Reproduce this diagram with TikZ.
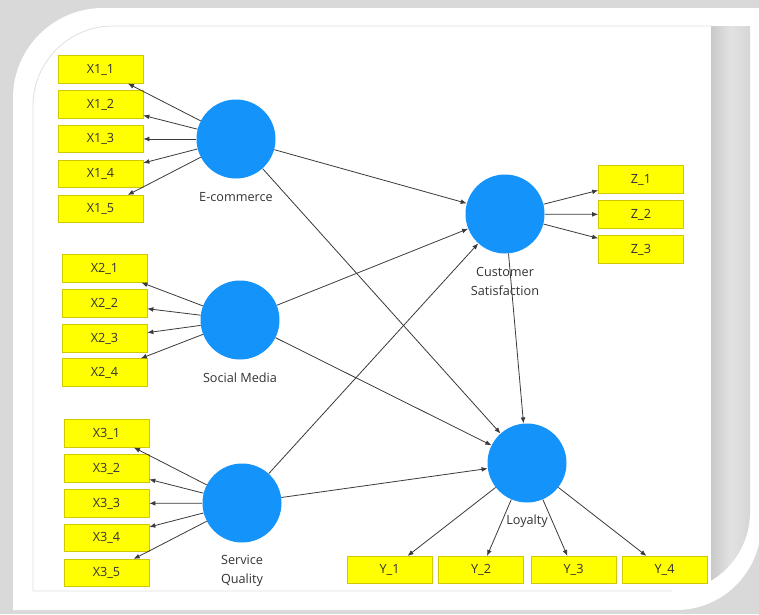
\documentclass[tikz,border=0pt]{standalone}
\usepackage{fontspec}
\setmainfont{Open Sans}
\usetikzlibrary{arrows.meta}
\definecolor{bgGrey}{HTML}{D9D9D9}
\definecolor{circBlue}{HTML}{1493FA}
\definecolor{boxYellow}{HTML}{FFFF00}
\definecolor{boxEdge}{HTML}{D2C800}
\definecolor{lineGrey}{HTML}{3A3A3A}
\definecolor{txtGrey}{HTML}{333333}
\definecolor{frameLine}{HTML}{E0E0E0}
\definecolor{stripDark}{HTML}{C9C9C9}
\definecolor{stripLight}{HTML}{E2E2E2}
\definecolor{stripMid}{HTML}{D6D6D6}
\begin{document}
\begin{tikzpicture}[x=0.75pt,y=-0.75pt,
  latent/.style={circle,fill=circBlue,draw=none,minimum size=59.25pt,inner sep=0pt},
  indicator/.style={rectangle,fill=boxYellow,draw=boxEdge,line width=0.5pt,minimum width=63.75pt,minimum height=20.6pt,inner sep=0pt,font=\fontsize{9.5}{11}\selectfont,text=txtGrey},
  lbl/.style={font=\fontsize{9.5}{14.25}\selectfont,text=txtGrey,align=center,inner sep=0pt},
  link/.style={draw=lineGrey,line width=0.6pt,-{Latex[length=4.5pt,width=3.6pt]}}]
\useasboundingbox (0,0) rectangle (759,614);
% background and frame
\fill[bgGrey] (0,0) rectangle (759,614);
\fill[white] (13,98) .. controls (13,48.3) and (53.3,8) .. (103,8) -- (761,8) -- (761,525) .. controls (761,571.9) and (722.9,610) .. (676,610) -- (13,610) -- cycle;
\shade[left color=stripDark,right color=stripMid,middle color=stripLight] (711,26) -- (750,26) -- (750,512) .. controls (750,540.2) and (735.2,566.2) .. (711,580.7) -- cycle;
\draw[frameLine,line width=0.6pt] (672,591) -- (33,591) -- (33,106) .. controls (33,61.8) and (68.8,26) .. (113,26) -- (711,26);
% latent variables
\node[latent] (ec) at (236,139) {};
\node[latent] (sm) at (240,320) {};
\node[latent] (sq) at (242,503) {};
\node[latent] (cs) at (505,214) {};
\node[latent] (ly) at (527,463) {};
% indicators
\node[indicator] (x11) at (100.5,69.5) {X1\_1};
\node[indicator] (x12) at (100.5,104.5) {X1\_2};
\node[indicator] (x13) at (100.5,139) {X1\_3};
\node[indicator] (x14) at (100.5,174) {X1\_4};
\node[indicator] (x15) at (100.5,209) {X1\_5};
\node[indicator] (x21) at (104.5,268.5) {X2\_1};
\node[indicator] (x22) at (104.5,303.5) {X2\_2};
\node[indicator] (x23) at (104.5,338.5) {X2\_3};
\node[indicator] (x24) at (104.5,372.5) {X2\_4};
\node[indicator] (x31) at (106.5,433.5) {X3\_1};
\node[indicator] (x32) at (106.5,468.5) {X3\_2};
\node[indicator] (x33) at (106.5,503.5) {X3\_3};
\node[indicator] (x34) at (106.5,538) {X3\_4};
\node[indicator] (x35) at (106.5,573) {X3\_5};
\node[indicator] (z1) at (641,179.5) {Z\_1};
\node[indicator] (z2) at (641,214.5) {Z\_2};
\node[indicator] (z3) at (641,249.5) {Z\_3};
\node[indicator] (y1) at (389.5,570) {Y\_1};
\node[indicator] (y2) at (481,570) {Y\_2};
\node[indicator] (y3) at (573.5,570) {Y\_3};
\node[indicator] (y4) at (664.5,570) {Y\_4};
% measurement arrows
\foreach \t in {x11,x12,x13,x14,x15} \draw[link] (ec) -- (\t);
\foreach \t in {x21,x22,x23,x24} \draw[link] (sm) -- (\t);
\foreach \t in {x31,x32,x33,x34,x35} \draw[link] (sq) -- (\t);
\foreach \t in {z1,z2,z3} \draw[link] (cs) -- (\t);
\foreach \t in {y1,y2,y3,y4} \draw[link] (ly) -- (\t);
% structural arrows
\draw[link] (ec) -- (cs);
\draw[link] (ec) -- (ly);
\draw[link] (sm) -- (cs);
\draw[link] (sm) -- (ly);
\draw[link] (sq) -- (cs);
\draw[link] (sq) -- (ly);
\draw[link] (cs) -- (ly);
% labels
\node[lbl] (ecl) at (236,197) {E-commerce};
\node[lbl] (sml) at (240,378) {Social Media};
\node[lbl] (sql) at (242,570.5) {Service\\Quality};
\node[lbl] (csl) at (505,281.5) {Customer\\Satisfaction};
\node[lbl] (lyl) at (527,521) {Loyalty};
\end{tikzpicture}
\end{document}
